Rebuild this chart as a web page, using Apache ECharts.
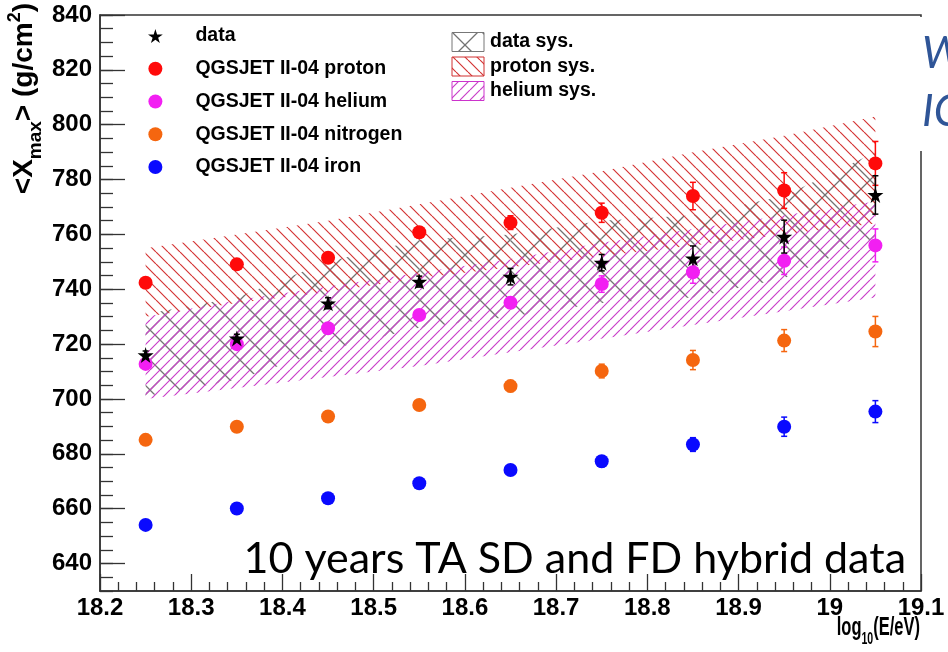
<!DOCTYPE html>
<html><head><meta charset="utf-8">
<script src="https://cdn.jsdelivr.net/npm/echarts@6/dist/echarts.min.js"></script>
<style>html,body{margin:0;padding:0;background:#fff}#c{width:948px;height:652px}</style>
</head><body><div id="c"></div>
<script>
// ---------- data ----------
const energies = [18.25, 18.35, 18.45, 18.55, 18.65, 18.75, 18.85, 18.95, 19.05];
const dataXmax = [716.0, 722.1, 734.9, 742.8, 744.6, 749.7, 751.3, 759.2, 774.4];
const dataErr  = [1.5, 1.5, 2, 2, 3, 3, 4.5, 6, 7];
const protonXmax = [742.4, 749.1, 751.5, 760.8, 764.3, 767.9, 774.0, 776.0, 785.9];
const protonErr  = [1, 1, 1.5, 2, 2.5, 3.5, 5, 6.5, 8];
const heliumXmax = [712.8, 720.0, 725.8, 730.6, 735.1, 741.9, 746.2, 750.4, 756.0];
const heliumErr  = [1, 1, 1.5, 1.5, 2, 3, 4, 5, 6];
const nitrogenXmax = [685.1, 689.9, 693.6, 697.8, 704.7, 710.2, 714.2, 721.3, 724.6];
const nitrogenErr  = [1, 1, 1, 1.5, 2, 2.5, 3.5, 4, 5.5];
const ironXmax = [654.1, 660.1, 663.8, 669.3, 674.1, 677.3, 683.4, 689.9, 695.4];
const ironErr  = [1, 1, 1, 1, 1.5, 2, 2.5, 3.5, 4];
// systematic bands (low / high edges)
const dataSysLow    = [701, 707, 718, 726, 730, 735, 737, 744, 759];
const dataSysHigh   = [731, 737, 750, 758, 760, 765, 767, 774, 790];
const protonSysLow  = [730, 735, 739, 744, 748, 752, 756, 760, 764];
const protonSysHigh = [755, 760, 765, 771, 777, 783, 790, 796, 803];
const heliumSysLow  = [700, 704, 708, 712, 717, 722, 727, 732, 737];
const heliumSysHigh = [730, 736, 741, 746, 751, 757, 762, 767, 772];
// tick labels
const xTickLabels = ['18.2','18.3','18.4','18.5','18.6','18.7','18.8','18.9','19','19.1'];
const yTickLabels = ['640','660','680','700','720','740','760','780','800','820','840'];
const seriesNames = ['data','QGSJET II-04 proton','QGSJET II-04 helium','QGSJET II-04 nitrogen','QGSJET II-04 iron'];
const sysNames = ['data sys.','proton sys.','helium sys.'];
const titleText = '10 years TA SD and FD hybrid data';

// ---------- layout ----------
const X_MIN = 18.2, X_MAX = 19.1, X_STEP = 0.1;
const Y_MIN = 630, Y_MAX = 840, Y_LAB_MIN = 640, Y_STEP = 20;
const G = {left: 100, right: 27, top: 15, bottom: 61};
const plotH = 652 - G.top - G.bottom;
const bottom2 = G.bottom + (Y_LAB_MIN - Y_MIN) * plotH / (Y_MAX - Y_MIN);
const AX = '#333';
const FONT = 'Liberation Sans';
const LEG_FS = 19.5;

const COL = {data:'#000000', proton:'#ff0a0a', helium:'#f21ff2', nitrogen:'#f5660f', iron:'#0a0aff'};

function hatch(color, s, w, dirs) {
  const c = document.createElement('canvas'); c.width = s; c.height = s;
  const g = c.getContext('2d'); g.strokeStyle = color; g.lineWidth = w;
  dirs.forEach(d => {
    g.beginPath();
    [-s, 0, s].forEach(o => {
      if (d === 'b') { g.moveTo(o, 0); g.lineTo(o + s, s); }
      else { g.moveTo(o, s); g.lineTo(o + s, 0); }
    });
    g.stroke();
  });
  return {image: c, repeat: 'repeat'};
}
const patData = hatch('#737373', 30, 1.3, ['b', 'f']);
const patProton = hatch('#d43535', 12, 1.2, ['b']);
const patHelium = hatch('#c940c9', 10, 1.2, ['f']);

function bandSeries(name, low, high, pat, z) {
  const segs = [];
  for (let i = 0; i < energies.length - 1; i++)
    segs.push([energies[i], low[i], high[i], energies[i + 1], low[i + 1], high[i + 1]]);
  return {
    type: 'custom', name, silent: true, z, xAxisIndex: 0, yAxisIndex: 0, data: segs,
    encode: {x: [0, 3], y: [1, 2, 4, 5]},
    renderItem: (p, api) => {
      const pts = [api.coord([api.value(0), api.value(1)]), api.coord([api.value(3), api.value(4)]),
                   api.coord([api.value(3), api.value(5)]), api.coord([api.value(0), api.value(2)])];
      return {type: 'polygon', shape: {points: pts}, style: {fill: pat, stroke: null}};
    }
  };
}
function errSeries(vals, errs, color) {
  return {
    type: 'custom', silent: true, z: 4, xAxisIndex: 0, yAxisIndex: 0,
    data: energies.map((e, i) => [e, vals[i] - errs[i], vals[i] + errs[i]]),
    encode: {x: 0, y: [1, 2]},
    renderItem: (p, api) => {
      const a = api.coord([api.value(0), api.value(1)]);
      const b = api.coord([api.value(0), api.value(2)]);
      const st = {stroke: color, lineWidth: 1.5};
      return {type: 'group', children: [
        {type: 'line', shape: {x1: a[0], y1: a[1], x2: b[0], y2: b[1]}, style: st},
        {type: 'line', shape: {x1: a[0] - 3, y1: a[1], x2: a[0] + 3, y2: a[1]}, style: st},
        {type: 'line', shape: {x1: b[0] - 3, y1: b[1], x2: b[0] + 3, y2: b[1]}, style: st}
      ]};
    }
  };
}
const STAR = 'path://M50,0 L61,35 L98,35 L68,57 L79,91 L50,70 L21,91 L32,57 L2,35 L39,35 Z';
function pointSeries(name, vals, color, symbol, size) {
  return {type: 'scatter', name, z: 5, xAxisIndex: 0, yAxisIndex: 0, symbol, symbolSize: size,
    data: energies.map((e, i) => [e, vals[i]]), itemStyle: {color, opacity: 1}};
}

const lineSt = {color: AX, width: 1.5};
const tickSt = {color: AX, width: 1.3};
const option = {
  animation: false,
  backgroundColor: '#fff',
  grid: [
    {left: G.left, right: G.right, top: G.top, bottom: G.bottom, show: true, borderColor: AX, borderWidth: 1.5},
    {left: G.left, right: G.right, top: G.top, bottom: bottom2, show: false}
  ],
  xAxis: [
    {type: 'value', gridIndex: 0, min: X_MIN, max: X_MAX, interval: X_STEP,
     axisLine: {show: true, onZero: false, lineStyle: lineSt},
     axisTick: {show: true, inside: true, length: 17, lineStyle: tickSt},
     minorTick: {show: true, splitNumber: 5, length: 9, lineStyle: tickSt},
     splitLine: {show: false},
     axisLabel: {show: true, margin: 5, fontSize: 24, fontWeight: 'bold', fontFamily: FONT, color: '#000',
       formatter: v => xTickLabels[Math.round((v - X_MIN) / X_STEP)]}},
    {type: 'value', gridIndex: 1, min: X_MIN, max: X_MAX, show: false}
  ],
  yAxis: [
    {type: 'value', gridIndex: 0, min: Y_MIN, max: Y_MAX, interval: 5,
     axisLine: {show: true, onZero: false, lineStyle: lineSt},
     axisTick: {show: true, inside: true, length: 13, lineStyle: tickSt},
     axisLabel: {show: false}, splitLine: {show: false}},
    {type: 'value', gridIndex: 1, min: Y_LAB_MIN, max: Y_MAX, interval: Y_STEP,
     axisLine: {show: false},
     axisTick: {show: true, inside: true, length: 25, lineStyle: tickSt},
     splitLine: {show: false},
     axisLabel: {show: true, margin: 8, fontSize: 24, fontWeight: 'bold', fontFamily: FONT, color: '#000',
       formatter: v => yTickLabels[Math.round((v - Y_LAB_MIN) / Y_STEP)]}}
  ],
  legend: {
    left: 148, top: 26, orient: 'vertical', padding: 0, itemWidth: 70, itemHeight: 14, itemGap: 12.75,
    selectedMode: false, data: seriesNames,
    textStyle: {fontSize: LEG_FS, fontWeight: 'bold', fontFamily: FONT, color: '#000', lineHeight: 20}
  },
  series: [
    bandSeries('data sys.', dataSysLow, dataSysHigh, patData, 2),
    bandSeries('proton sys.', protonSysLow, protonSysHigh, patProton, 2),
    bandSeries('helium sys.', heliumSysLow, heliumSysHigh, patHelium, 2),
    errSeries(protonXmax, protonErr, COL.proton),
    errSeries(heliumXmax, heliumErr, COL.helium),
    errSeries(nitrogenXmax, nitrogenErr, COL.nitrogen),
    errSeries(ironXmax, ironErr, COL.iron),
    errSeries(dataXmax, dataErr, COL.data),
    pointSeries(seriesNames[1], protonXmax, COL.proton, 'circle', 14),
    pointSeries(seriesNames[2], heliumXmax, COL.helium, 'circle', 14),
    pointSeries(seriesNames[3], nitrogenXmax, COL.nitrogen, 'circle', 14),
    pointSeries(seriesNames[4], ironXmax, COL.iron, 'circle', 14),
    pointSeries(seriesNames[0], dataXmax, COL.data, STAR, 16)
  ],
  graphic: []
};

// right-hand legend for systematic bands
const sysPats = [patData, patProton, patHelium];
const sysBorders = ['#777777', '#d03030', '#cc33cc'];
sysNames.forEach((n, i) => {
  const cy = 42 + i * 24.5;
  option.graphic.push({type: 'rect', z: 50, shape: {x: 452, y: cy - 9.5, width: 32, height: 19},
    style: {fill: sysPats[i], stroke: sysBorders[i], lineWidth: 1}});
  option.graphic.push({type: 'text', z: 50, x: 490, y: cy,
    style: {text: n, fontSize: LEG_FS, fontWeight: 'bold', fontFamily: FONT, fill: '#000', verticalAlign: 'middle'}});
});
// axis titles
option.graphic.push({type: 'text', z: 50, x: 26, y: 3, rotation: Math.PI / 2,
  style: {text: '{a|<X}{b|max}{a|> (g/cm}{c|2}{a|)}', align: 'right', verticalAlign: 'middle',
    rich: {
      a: {fontSize: 28, fontWeight: 'bold', fontFamily: FONT, fill: '#000', verticalAlign: 'bottom', padding: [4, 0, 7, 0]},
      b: {fontSize: 19, fontWeight: 'bold', fontFamily: FONT, fill: '#000', verticalAlign: 'bottom'},
      c: {fontSize: 18, fontWeight: 'bold', fontFamily: FONT, fill: '#000', verticalAlign: 'top'}
    }}});
option.graphic.push({type: 'text', z: 50, x: 920, y: 632, scaleX: 0.66,
  style: {text: '{a|log}{b|10}{a|(E/eV)}', align: 'right', verticalAlign: 'middle',
    rich: {
      a: {fontSize: 25, fontWeight: 'bold', fontFamily: FONT, fill: '#000', verticalAlign: 'bottom', padding: [0, 0, 7, 0]},
      b: {fontSize: 16, fontWeight: 'bold', fontFamily: FONT, fill: '#000', verticalAlign: 'bottom'}
    }}});
// slide overlay texts
option.graphic.push({type: 'text', z: 60, x: 906, y: 559,
  style: {text: titleText, fontSize: 43, fontFamily: 'Lato', fill: '#000', align: 'right', verticalAlign: 'middle'}});
option.graphic.push({type: 'rect', z: 60, shape: {x: 919.5, y: 17, width: 29, height: 134}, style: {fill: '#fff'}});
option.graphic.push({type: 'text', z: 61, x: 922, y: 54,
  style: {text: 'W', fontSize: 44, fontStyle: 'italic', fontFamily: 'Lato', fill: '#2F5597', verticalAlign: 'middle'}});
option.graphic.push({type: 'text', z: 61, x: 922, y: 112,
  style: {text: 'IC', fontSize: 44, fontStyle: 'italic', fontFamily: 'Lato', fill: '#2F5597', verticalAlign: 'middle'}});

const chart = echarts.init(document.getElementById('c'), null, {renderer: 'canvas'});
chart.setOption(option);
</script>
</body></html>
